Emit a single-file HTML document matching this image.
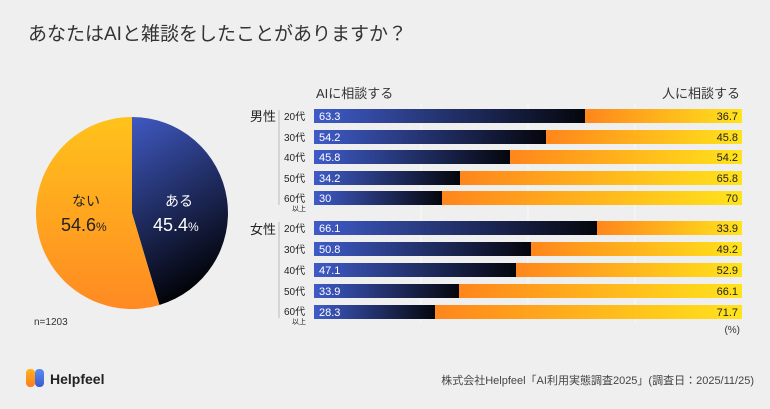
<!DOCTYPE html>
<html><head><meta charset="utf-8"><style>
body{margin:0;width:770px;height:404px;background:#efefef;overflow:hidden;font-family:"Liberation Sans","Noto Sans CJK JP",sans-serif;}
</style></head><body>
<svg width="770" height="404" xmlns="http://www.w3.org/2000/svg" font-family="Liberation Sans, Noto Sans CJK JP, sans-serif">
<defs>
<linearGradient id="bl" x1="0" x2="1" y1="0" y2="0"><stop offset="0" stop-color="#3f5bc8"/><stop offset="1" stop-color="#05060c"/></linearGradient>
<linearGradient id="or" x1="0" x2="1" y1="0" y2="0"><stop offset="0" stop-color="#ff861c"/><stop offset="1" stop-color="#ffe31c"/></linearGradient>
<linearGradient id="pb" x1="0" x2="0.3" y1="0" y2="1"><stop offset="0" stop-color="#4059c2"/><stop offset="1" stop-color="#03040a"/></linearGradient>
<linearGradient id="po" x1="0" x2="0" y1="0" y2="1"><stop offset="0" stop-color="#ffc21c"/><stop offset="1" stop-color="#ff8a22"/></linearGradient>
<linearGradient id="lg1" x1="0" x2="0" y1="0" y2="1"><stop offset="0" stop-color="#ffb21c"/><stop offset="1" stop-color="#ff7a1c"/></linearGradient>
<linearGradient id="lg2" x1="0" x2="0" y1="0" y2="1"><stop offset="0" stop-color="#5a8cf0"/><stop offset="1" stop-color="#3a5ad0"/></linearGradient>
</defs>
<text x="28" y="40" font-size="19" fill="#333">あなたはAIと雑談をしたことがありますか？</text>
<path d="M132 213 L132 117 A96 96 0 0 1 159.4 305 Z" fill="url(#pb)"/>
<path d="M132 213 L159.4 305 A96 96 0 1 1 132 117 Z" fill="url(#po)"/>
<text x="72" y="206" font-size="14" fill="#222">ない</text>
<text x="61" y="231" font-size="18" fill="#222">54.6<tspan font-size="12">%</tspan></text>
<text x="165" y="206" font-size="14" fill="#fff">ある</text>
<text x="153" y="231" font-size="18" fill="#fff">45.4<tspan font-size="12">%</tspan></text>
<text x="34" y="325" font-size="10" fill="#333">n=1203</text>
<g stroke="#fafafa" stroke-width="1">
<line x1="421" y1="104" x2="421" y2="322"/><line x1="528" y1="104" x2="528" y2="322"/><line x1="635" y1="104" x2="635" y2="322"/>
</g>
<line x1="279" y1="110" x2="279" y2="205" stroke="#bbb"/>
<line x1="279" y1="222" x2="279" y2="318" stroke="#bbb"/>
<text x="316" y="98" font-size="13" fill="#333">AIに相談する</text>
<text x="740" y="98" font-size="13" fill="#333" text-anchor="end">人に相談する</text>
<text x="250" y="121" font-size="13" fill="#222">男性</text>
<text x="250" y="234" font-size="13" fill="#222">女性</text>
<g font-size="10" fill="#222">
<text x="284" y="120">20代</text><text x="284" y="141">30代</text><text x="284" y="161">40代</text><text x="284" y="182">50代</text><text x="284" y="202">60代</text><text x="292" y="211" font-size="7">以上</text>
<text x="284" y="232">20代</text><text x="284" y="253">30代</text><text x="284" y="274">40代</text><text x="284" y="295">50代</text><text x="284" y="315">60代</text><text x="292" y="324" font-size="7">以上</text>
</g>
<g font-size="11">
<rect x="585" y="109" width="157" height="14" fill="url(#or)"/><rect x="314" y="109" width="271" height="14" fill="url(#bl)"/><text x="319" y="120" fill="#fff">63.3</text><text x="738" y="120" text-anchor="end" fill="#222">36.7</text>
<rect x="546" y="130" width="196" height="14" fill="url(#or)"/><rect x="314" y="130" width="232" height="14" fill="url(#bl)"/><text x="319" y="141" fill="#fff">54.2</text><text x="738" y="141" text-anchor="end" fill="#222">45.8</text>
<rect x="510" y="150" width="232" height="14" fill="url(#or)"/><rect x="314" y="150" width="196" height="14" fill="url(#bl)"/><text x="319" y="161" fill="#fff">45.8</text><text x="738" y="161" text-anchor="end" fill="#222">54.2</text>
<rect x="460" y="171" width="282" height="14" fill="url(#or)"/><rect x="314" y="171" width="146" height="14" fill="url(#bl)"/><text x="319" y="182" fill="#fff">34.2</text><text x="738" y="182" text-anchor="end" fill="#222">65.8</text>
<rect x="442" y="191" width="300" height="14" fill="url(#or)"/><rect x="314" y="191" width="128" height="14" fill="url(#bl)"/><text x="319" y="202" fill="#fff">30</text><text x="738" y="202" text-anchor="end" fill="#222">70</text>
<rect x="597" y="221" width="145" height="14" fill="url(#or)"/><rect x="314" y="221" width="283" height="14" fill="url(#bl)"/><text x="319" y="232" fill="#fff">66.1</text><text x="738" y="232" text-anchor="end" fill="#222">33.9</text>
<rect x="531" y="242" width="211" height="14" fill="url(#or)"/><rect x="314" y="242" width="217" height="14" fill="url(#bl)"/><text x="319" y="253" fill="#fff">50.8</text><text x="738" y="253" text-anchor="end" fill="#222">49.2</text>
<rect x="516" y="263" width="226" height="14" fill="url(#or)"/><rect x="314" y="263" width="202" height="14" fill="url(#bl)"/><text x="319" y="274" fill="#fff">47.1</text><text x="738" y="274" text-anchor="end" fill="#222">52.9</text>
<rect x="459" y="284" width="283" height="14" fill="url(#or)"/><rect x="314" y="284" width="145" height="14" fill="url(#bl)"/><text x="319" y="295" fill="#fff">33.9</text><text x="738" y="295" text-anchor="end" fill="#222">66.1</text>
<rect x="435" y="305" width="307" height="14" fill="url(#or)"/><rect x="314" y="305" width="121" height="14" fill="url(#bl)"/><text x="319" y="316" fill="#fff">28.3</text><text x="738" y="316" text-anchor="end" fill="#222">71.7</text>
</g>
<text x="740" y="333" font-size="10" fill="#333" text-anchor="end">(%)</text>
<rect x="26" y="369" width="9" height="18" rx="4" fill="url(#lg1)"/>
<rect x="35" y="369" width="9" height="18" rx="4" fill="url(#lg2)"/>
<text x="50" y="384" font-size="14" font-weight="bold" fill="#222">Helpfeel</text>
<text x="754" y="384" font-size="11" fill="#444" text-anchor="end">株式会社Helpfeel「AI利用実態調査2025」(調査日：2025/11/25)</text>
</svg>
</body></html>
